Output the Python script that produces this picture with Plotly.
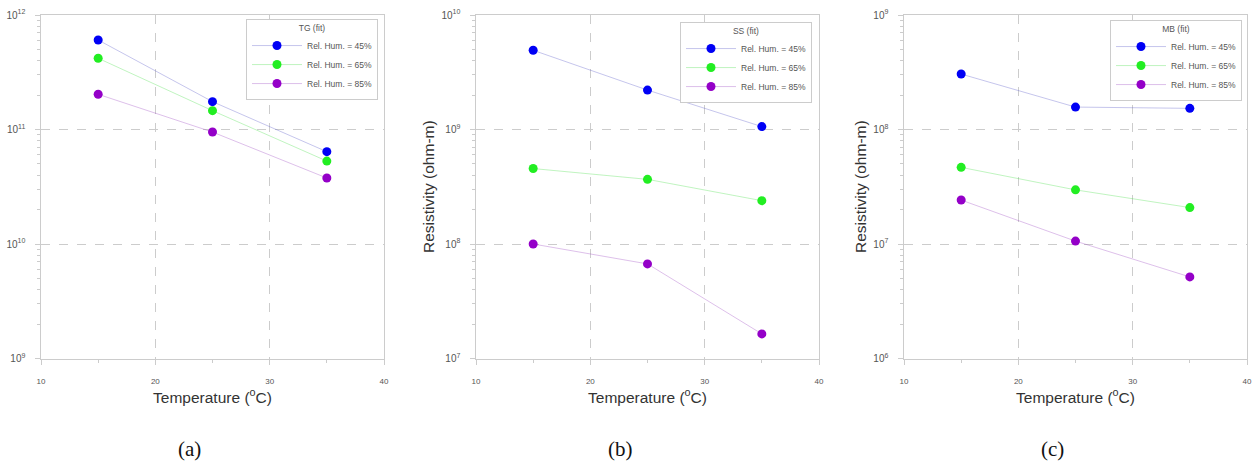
import plotly.graph_objects as go
from plotly.subplots import make_subplots

temperature = [15, 25, 35]
humidity_labels = ["Rel. Hum. = 45%", "Rel. Hum. = 65%", "Rel. Hum. = 85%"]
panel_names = ["TG (fit)", "SS (fit)", "MB (fit)"]
panel_letters = ["(a)", "(b)", "(c)"]

tg_45 = [6.05e11, 1.75e11, 6.4e10]
tg_65 = [4.19e11, 1.46e11, 5.3e10]
tg_85 = [2.03e11, 9.5e10, 3.77e10]

ss_45 = [4.92e9, 2.21e9, 1.06e9]
ss_65 = [4.56e8, 3.67e8, 2.39e8]
ss_85 = [1.0e8, 6.7e7, 1.64e7]

mb_45 = [3.05e8, 1.57e8, 1.53e8]
mb_65 = [4.67e7, 2.97e7, 2.08e7]
mb_85 = [2.42e7, 1.06e7, 5.16e6]

y_ranges = [(9, 12), (7, 10), (6, 9)]

W, H = 1256, 462
marker_colors = ["#0000f5", "#22ee22", "#9400c8"]
line_colors = ["rgba(90,90,200,0.35)", "rgba(60,220,60,0.32)", "rgba(150,60,190,0.32)"]

panels = [[tg_45, tg_65, tg_85], [ss_45, ss_65, ss_85], [mb_45, mb_65, mb_85]]

# plot-area pixel geometry
x_domains_px = [(41, 384), (476, 819), (904, 1247)]
top_px, bot_px = 15, 358.5

fig = make_subplots(rows=1, cols=3)

legend_names = ["legend", "legend2", "legend3"]
legend_right_px = [378, 812, 1242]
legend_top_px = [19, 22, 20]

for p, series in enumerate(panels):
    for s, vals in enumerate(series):
        fig.add_trace(
            go.Scatter(
                x=temperature, y=vals, mode="lines+markers",
                name=humidity_labels[s],
                line=dict(color=line_colors[s], width=1),
                marker=dict(color=marker_colors[s], size=9),
                legend=legend_names[p],
            ),
            row=1, col=p + 1,
        )

axis_font = dict(family="Liberation Sans, Arial", size=8, color="#555")
title_font = dict(family="Liberation Sans, Arial", size=15.5, color="#333")
layout_updates = {}
for p in range(3):
    xk = "xaxis" if p == 0 else f"xaxis{p+1}"
    yk = "yaxis" if p == 0 else f"yaxis{p+1}"
    x0, x1 = x_domains_px[p]
    layout_updates[xk] = dict(
        domain=[x0 / W, x1 / W], range=[10, 40], dtick=10, tick0=10,
        showline=True, mirror=True, linecolor="#cccccc", linewidth=1,
        showgrid=True, gridcolor="#cccccc", griddash="dash", gridwidth=1,
        zeroline=False, ticks="outside", ticklen=5, tickcolor="#cccccc",
        minor=dict(dtick=5, ticks="outside", ticklen=3, tickcolor="#cccccc", showgrid=False),
        tickfont=axis_font, ticklabelstandoff=10,
        title=dict(text="Temperature (<sup>o</sup>C)", font=title_font, standoff=4),
        automargin=False,
    )
    layout_updates[yk] = dict(
        type="log", domain=[1 - bot_px / H, 1 - top_px / H], range=list(y_ranges[p]), dtick=1,
        exponentformat="power",
        showline=True, mirror=True, linecolor="#cccccc", linewidth=1,
        showgrid=True, gridcolor="#cccccc", griddash="dash", gridwidth=1,
        zeroline=False, ticks="outside", ticklen=5, tickcolor="#cccccc",
        minor=dict(dtick="D1", ticks="outside", ticklen=3, tickcolor="#cccccc", showgrid=False),
        tickfont=axis_font, ticklabelstandoff=8, automargin=False,
    )
    lk = legend_names[p]
    layout_updates[lk] = dict(
        x=legend_right_px[p] / W, xanchor="right",
        y=1 - legend_top_px[p] / H, yanchor="top",
        bordercolor="#cccccc", borderwidth=1, bgcolor="white",
        font=dict(family="Liberation Sans, Arial", size=8.5, color="#555"),
        title=dict(text=panel_names[p], side="top center",
                   font=dict(family="Liberation Sans, Arial", size=8.5, color="#555")),
        itemwidth=50, tracegroupgap=0,
    )

fig.update_layout(**layout_updates)

annotations = []
title_x_px = [-9, 428, 860]
for p in range(3):
    annotations.append(dict(
        text="Resistivity (ohm-m)", textangle=-90, x=title_x_px[p] / W, y=1 - 187 / H,
        xref="paper", yref="paper", xanchor="center", yanchor="middle", showarrow=False,
        font=title_font,
    ))
label_x_px = [189, 620, 1052]
for p in range(3):
    annotations.append(dict(
        text=panel_letters[p], x=label_x_px[p] / W, y=1 - 449 / H,
        xref="paper", yref="paper", xanchor="center", yanchor="middle", showarrow=False,
        font=dict(family="Liberation Serif, Times New Roman", size=21, color="#111"),
    ))

fig.update_layout(
    width=W, height=H, margin=dict(l=0, r=0, t=0, b=0),
    paper_bgcolor="white", plot_bgcolor="white",
    annotations=annotations, showlegend=True,
)

fig.write_html("out.html")
